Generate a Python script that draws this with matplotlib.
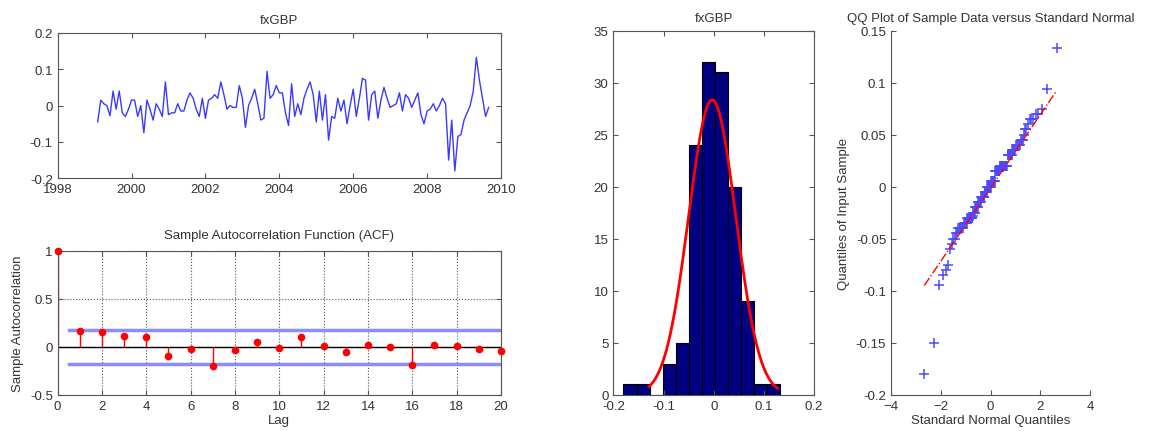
import numpy as np
import pandas as pd
import matplotlib
matplotlib.use("Agg")
import matplotlib.pyplot as plt
from statistics import NormalDist

plt.rcParams['font.family'] = ['Liberation Sans', 'DejaVu Sans']
plt.rcParams['font.size'] = 9.5
plt.rcParams['text.color'] = '#333333'
plt.rcParams['axes.labelcolor'] = '#333333'
plt.rcParams['xtick.color'] = '#555555'
plt.rcParams['ytick.color'] = '#555555'
plt.rcParams['xtick.labelcolor'] = '#333333'
plt.rcParams['ytick.labelcolor'] = '#333333'

# monthly returns, Feb 1999 .. Sep 2009
fxgbp = [
    -0.045, 0.015, 0.005, 0.000, -0.028, 0.040, -0.010, 0.040, -0.020, -0.030, -0.010, 0.015,
    0.015, -0.030, 0.000, -0.075, 0.015, -0.010, -0.040, 0.005, -0.010, -0.030, 0.065, -0.025,
    -0.020, -0.020, 0.005, -0.015, -0.015, 0.015, 0.035, 0.020, -0.010, -0.030, 0.020, -0.035,
    0.015, 0.020, 0.030, 0.020, 0.065, 0.030, -0.010, 0.000, -0.005, -0.005, 0.055, 0.020,
    -0.060, 0.000, 0.020, 0.045, 0.005, -0.040, -0.035, 0.094, 0.020, 0.030, 0.055, 0.035,
    0.035, -0.020, -0.055, 0.060, -0.030, 0.005, -0.025, 0.020, 0.045, 0.065, 0.030, -0.045,
    0.040, -0.040, 0.030, -0.095, -0.030, -0.035, 0.020, -0.015, 0.015, -0.050, 0.000, 0.045,
    -0.030, 0.020, 0.075, 0.070, -0.040, 0.030, 0.040, -0.035, 0.015, 0.050, 0.020, -0.005,
    0.000, 0.005, 0.035, -0.015, 0.030, 0.020, -0.005, 0.015, 0.035, -0.025, -0.050, -0.015,
    -0.010, 0.005, -0.015, 0.000, 0.020, 0.005, -0.150, -0.040, -0.180, -0.085, -0.080, -0.040,
    -0.020, 0.000, 0.040, 0.133, 0.070, 0.020, -0.030, -0.005,
]
start_month = '1999-02'

# sample autocorrelation, lags 0..20
acf_lags = list(range(21))
acf_vals = [1.0, 0.16, 0.15, 0.11, 0.10, -0.10, -0.02, -0.20, -0.03, 0.05, -0.01,
            0.10, 0.01, -0.05, 0.02, 0.00, -0.19, 0.02, 0.01, -0.02, -0.04]
acf_bound = 0.177

# histogram counts (12 bins between min and max) and the fitted normal
hist_counts = [1, 1, 0, 3, 5, 24, 32, 31, 20, 9, 1, 1]
fit_mu, fit_sigma = -0.003, 0.047
fit_range = (-0.129, 0.127)

data = np.array(fxgbp)
dates = pd.date_range(start_month, periods=len(data), freq='MS')
t = dates.year + (dates.month - 1) / 12.0


def matlab_box(ax, box=True):
    for s in ax.spines.values():
        s.set_color('#555555')
        s.set_linewidth(0.8)
    if box:
        ax.tick_params(direction='in', top=True, right=True, length=3.5, width=0.8)
    else:
        ax.spines['top'].set_visible(False)
        ax.spines['right'].set_visible(False)
        ax.tick_params(direction='in', length=3.5, width=0.8)


fig = plt.figure(figsize=(11.53, 4.35), dpi=100)

# time series
ax1 = fig.add_axes([0.050, 0.588, 0.3845, 0.334])
ax1.plot(t, data, color='#3a3aff', lw=1.0)
ax1.set_xlim(1998, 2010)
ax1.set_ylim(-0.2, 0.2)
ax1.set_xticks(range(1998, 2011, 2))
ax1.set_yticks([-0.2, -0.1, 0, 0.1, 0.2])
ax1.set_yticklabels(['-0.2', '-0.1', '0', '0.1', '0.2'])
ax1.set_title('fxGBP', fontsize=9.5, pad=7)
matlab_box(ax1)

# ACF
ax2 = fig.add_axes([0.050, 0.0903, 0.3845, 0.331])
ax2.grid(True, ls=':', color='#555555', lw=0.8)
ax2.axhline(0, color='black', lw=1.0)
ax2.axhline(acf_bound, xmin=0.5 / 20, color='#8c8cff', lw=2.5)
ax2.axhline(-acf_bound, xmin=0.5 / 20, color='#8c8cff', lw=2.5)
ax2.vlines(acf_lags, 0, acf_vals, color='red', lw=1.0)
ax2.plot(acf_lags, acf_vals, 'o', color='red', ms=4.5, clip_on=False, zorder=5)
ax2.set_xlim(0, 20)
ax2.set_ylim(-0.5, 1)
ax2.set_xticks(range(0, 21, 2))
ax2.set_yticks([-0.5, 0, 0.5, 1])
ax2.set_yticklabels(['-0.5', '0', '0.5', '1'])
ax2.set_xlabel('Lag', labelpad=2)
ax2.set_ylabel('Sample Autocorrelation')
ax2.set_title('Sample Autocorrelation Function (ACF)', fontsize=9.5, pad=9)
matlab_box(ax2)

# histogram with normal fit
ax3 = fig.add_axes([0.532, 0.0903, 0.174, 0.837])
edges = np.linspace(data.min(), data.max(), len(hist_counts) + 1)
binw = edges[1] - edges[0]
ax3.bar(edges[:-1], hist_counts, width=binw, align='edge', color='#000080',
        edgecolor='black', lw=0.8)
xf = np.linspace(fit_range[0], fit_range[1], 200)
yf = len(data) * binw * np.exp(-0.5 * ((xf - fit_mu) / fit_sigma) ** 2) / (fit_sigma * np.sqrt(2 * np.pi))
ax3.plot(xf, yf, color='red', lw=2)
ax3.set_xlim(-0.2, 0.2)
ax3.set_ylim(0, 35)
ax3.set_xticks([-0.2, -0.1, 0, 0.1, 0.2])
ax3.set_xticklabels(['-0.2', '-0.1', '0', '0.1', '0.2'])
ax3.set_yticks(range(0, 36, 5))
ax3.set_title('fxGBP', fontsize=9.5, pad=7)
matlab_box(ax3)

# QQ plot
ax4 = fig.add_axes([0.7728, 0.0903, 0.1726, 0.837])
n = len(data)
ys = np.sort(data)
xs = np.array([NormalDist().inv_cdf((i + 0.5) / n) for i in range(n)])
q1x, q3x = NormalDist().inv_cdf(0.25), NormalDist().inv_cdf(0.75)
q1y, q3y = np.percentile(data, [25, 75])
slope = (q3y - q1y) / (q3x - q1x)
icpt = q1y - slope * q1x
ax4.plot(xs, ys, '+', color='#4a4aff', ms=7, mew=1.1)
ax4.plot([xs[0], xs[-1]], [icpt + slope * xs[0], icpt + slope * xs[-1]],
         color='red', ls='-.', lw=1)
ax4.set_xlim(-4, 4)
ax4.set_ylim(-0.2, 0.15)
ax4.set_xticks([-4, -2, 0, 2, 4])
ax4.set_yticks([-0.2, -0.15, -0.1, -0.05, 0, 0.05, 0.1, 0.15])
ax4.set_yticklabels(['-0.2', '-0.15', '-0.1', '-0.05', '0', '0.05', '0.1', '0.15'])
ax4.set_xlabel('Standard Normal Quantiles', labelpad=2)
ax4.set_ylabel('Quantiles of Input Sample')
ax4.set_title('QQ Plot of Sample Data versus Standard Normal', fontsize=9.5, pad=7)
matlab_box(ax4, box=False)

fig.savefig('out.png', dpi=100)
